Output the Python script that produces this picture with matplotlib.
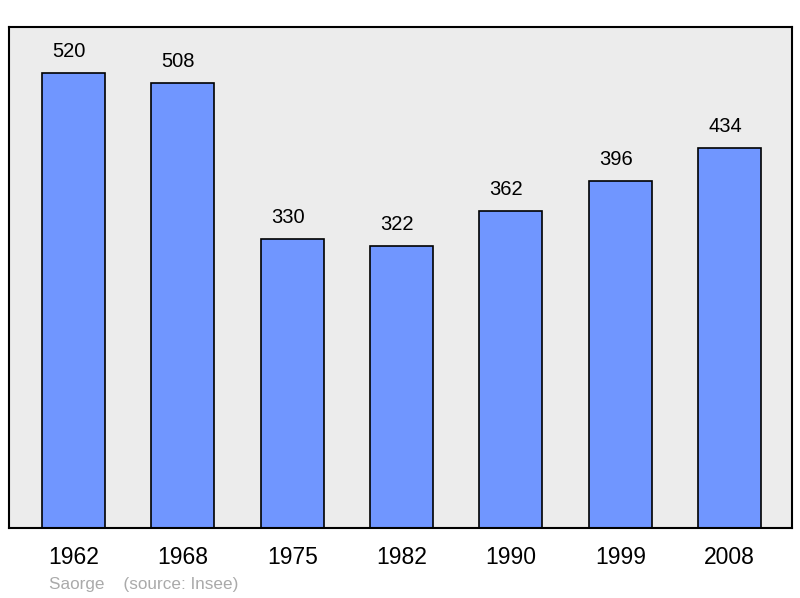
import matplotlib.pyplot as plt

plt.rcParams['font.family'] = ['Liberation Sans', 'DejaVu Sans']

# Population de Saorge (source: Insee)
annees = ['1962', '1968', '1975', '1982', '1990', '1999', '2008']
population = [520, 508, 330, 322, 362, 396, 434]

fig = plt.figure(figsize=(8, 5.98), dpi=100)
ax = fig.add_axes([9 / 800, 1 - 528 / 598, 783 / 800, 501 / 598])
ax.set_facecolor('#ececec')

positions = range(len(annees))
ax.bar(positions, population, width=0.576, color='#7096ff',
       edgecolor='black', linewidth=1.2, zorder=2)

for x, valeur in zip(positions, population):
    ax.annotate(str(valeur), (x, valeur), xytext=(-3.3, 15.5), textcoords='offset points',
                ha='center', va='center', fontsize=14.5)

ax.set_xlim(-0.59, 6.57)
ax.set_ylim(0, max(population) * 1.1)
ax.set_yticks([])
ax.set_xticks(list(positions))
ax.set_xticklabels(annees, fontsize=16.5)
ax.tick_params(axis='x', length=0, pad=13)
for spine in ax.spines.values():
    spine.set_linewidth(1.5)

fig.text(49 / 800, 1 - 584 / 598, 'Saorge    (source: Insee)', color='#aaaaaa',
         fontsize=12.3, ha='left', va='center')

fig.savefig('out.png', dpi=100)
